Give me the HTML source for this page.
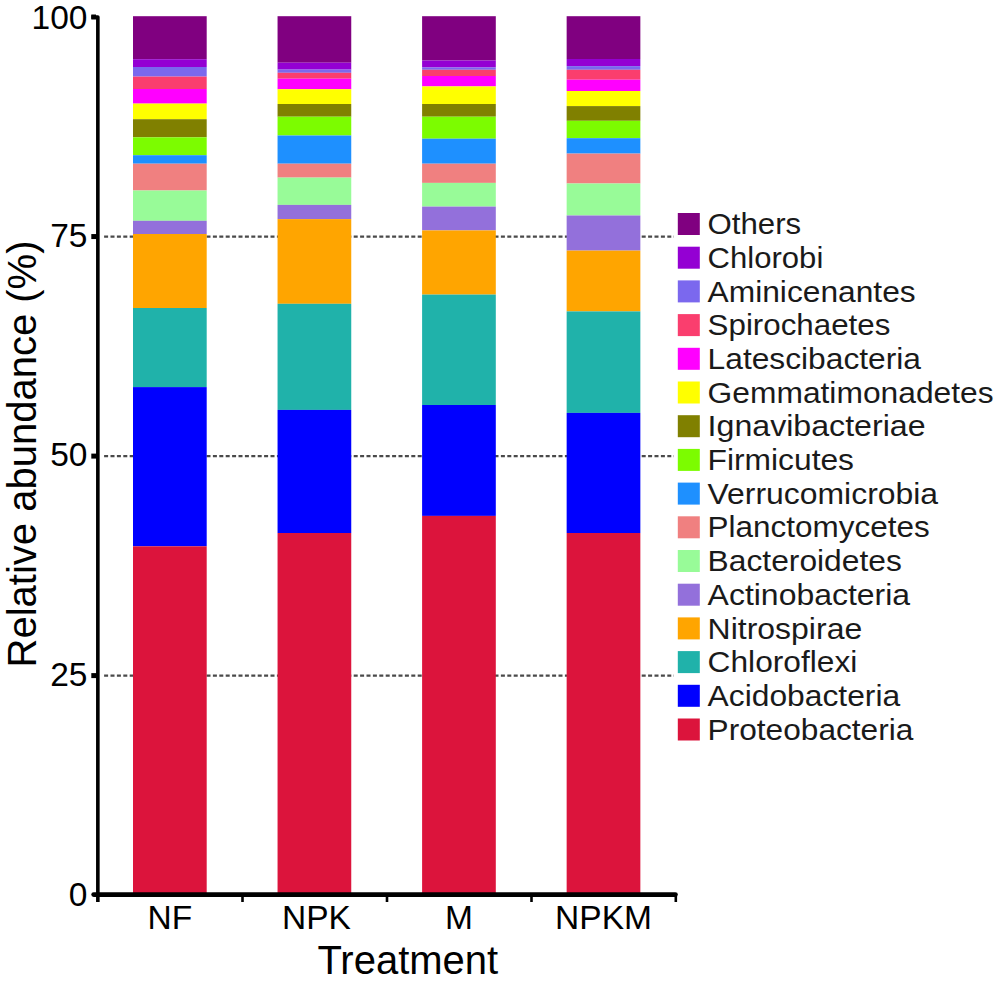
<!DOCTYPE html>
<html><head><meta charset="utf-8"><style>
html,body{margin:0;padding:0;background:#fff;}
svg{display:block;font-family:"Liberation Sans",sans-serif;}
</style></head><body>
<svg width="1000" height="982" viewBox="0 0 1000 982">
<rect width="1000" height="982" fill="#fff"/>
<line x1="104.1" y1="236.55" x2="674" y2="236.55" stroke="#4a4a4a" stroke-width="2.2" stroke-dasharray="4 2.4"/>
<line x1="104.1" y1="456.1" x2="674" y2="456.1" stroke="#4a4a4a" stroke-width="2.2" stroke-dasharray="4 2.4"/>
<line x1="104.1" y1="675.6" x2="674" y2="675.6" stroke="#4a4a4a" stroke-width="2.2" stroke-dasharray="4 2.4"/>
<rect x="133" y="16.20" width="73.7" height="43.00" fill="#800080"/>
<rect x="133" y="59.20" width="73.7" height="7.80" fill="#9400D3"/>
<rect x="133" y="67.00" width="73.7" height="9.60" fill="#7B68EE"/>
<rect x="133" y="76.60" width="73.7" height="12.40" fill="#FA3E6E"/>
<rect x="133" y="89.00" width="73.7" height="14.60" fill="#FF00FF"/>
<rect x="133" y="103.60" width="73.7" height="15.60" fill="#FFFF00"/>
<rect x="133" y="119.20" width="73.7" height="18.10" fill="#808000"/>
<rect x="133" y="137.30" width="73.7" height="17.90" fill="#7CFC00"/>
<rect x="133" y="155.20" width="73.7" height="8.50" fill="#1E90FF"/>
<rect x="133" y="163.70" width="73.7" height="26.80" fill="#F08080"/>
<rect x="133" y="190.50" width="73.7" height="30.30" fill="#98FB98"/>
<rect x="133" y="220.80" width="73.7" height="13.20" fill="#9370DB"/>
<rect x="133" y="234.00" width="73.7" height="74.00" fill="#FFA500"/>
<rect x="133" y="308.00" width="73.7" height="79.10" fill="#20B2AA"/>
<rect x="133" y="387.10" width="73.7" height="159.20" fill="#0000FF"/>
<rect x="133" y="546.30" width="73.7" height="348.70" fill="#DC143C"/>
<rect x="277.55" y="16.20" width="73.7" height="46.50" fill="#800080"/>
<rect x="277.55" y="62.70" width="73.7" height="6.90" fill="#9400D3"/>
<rect x="277.55" y="69.60" width="73.7" height="3.20" fill="#7B68EE"/>
<rect x="277.55" y="72.80" width="73.7" height="5.90" fill="#FA3E6E"/>
<rect x="277.55" y="78.70" width="73.7" height="10.50" fill="#FF00FF"/>
<rect x="277.55" y="89.20" width="73.7" height="14.80" fill="#FFFF00"/>
<rect x="277.55" y="104.00" width="73.7" height="12.70" fill="#808000"/>
<rect x="277.55" y="116.70" width="73.7" height="18.80" fill="#7CFC00"/>
<rect x="277.55" y="135.50" width="73.7" height="28.20" fill="#1E90FF"/>
<rect x="277.55" y="163.70" width="73.7" height="13.90" fill="#F08080"/>
<rect x="277.55" y="177.60" width="73.7" height="27.30" fill="#98FB98"/>
<rect x="277.55" y="204.90" width="73.7" height="14.20" fill="#9370DB"/>
<rect x="277.55" y="219.10" width="73.7" height="84.70" fill="#FFA500"/>
<rect x="277.55" y="303.80" width="73.7" height="106.10" fill="#20B2AA"/>
<rect x="277.55" y="409.90" width="73.7" height="123.10" fill="#0000FF"/>
<rect x="277.55" y="533.00" width="73.7" height="362.00" fill="#DC143C"/>
<rect x="422.1" y="16.20" width="73.7" height="44.30" fill="#800080"/>
<rect x="422.1" y="60.50" width="73.7" height="7.00" fill="#9400D3"/>
<rect x="422.1" y="67.50" width="73.7" height="2.30" fill="#7B68EE"/>
<rect x="422.1" y="69.80" width="73.7" height="6.20" fill="#FA3E6E"/>
<rect x="422.1" y="76.00" width="73.7" height="10.40" fill="#FF00FF"/>
<rect x="422.1" y="86.40" width="73.7" height="17.60" fill="#FFFF00"/>
<rect x="422.1" y="104.00" width="73.7" height="12.70" fill="#808000"/>
<rect x="422.1" y="116.70" width="73.7" height="22.00" fill="#7CFC00"/>
<rect x="422.1" y="138.70" width="73.7" height="25.00" fill="#1E90FF"/>
<rect x="422.1" y="163.70" width="73.7" height="19.20" fill="#F08080"/>
<rect x="422.1" y="182.90" width="73.7" height="23.70" fill="#98FB98"/>
<rect x="422.1" y="206.60" width="73.7" height="23.80" fill="#9370DB"/>
<rect x="422.1" y="230.40" width="73.7" height="64.20" fill="#FFA500"/>
<rect x="422.1" y="294.60" width="73.7" height="110.40" fill="#20B2AA"/>
<rect x="422.1" y="405.00" width="73.7" height="110.90" fill="#0000FF"/>
<rect x="422.1" y="515.90" width="73.7" height="379.10" fill="#DC143C"/>
<rect x="566.65" y="16.20" width="73.7" height="42.80" fill="#800080"/>
<rect x="566.65" y="59.00" width="73.7" height="7.10" fill="#9400D3"/>
<rect x="566.65" y="66.10" width="73.7" height="3.70" fill="#7B68EE"/>
<rect x="566.65" y="69.80" width="73.7" height="9.90" fill="#FA3E6E"/>
<rect x="566.65" y="79.70" width="73.7" height="11.30" fill="#FF00FF"/>
<rect x="566.65" y="91.00" width="73.7" height="15.10" fill="#FFFF00"/>
<rect x="566.65" y="106.10" width="73.7" height="14.70" fill="#808000"/>
<rect x="566.65" y="120.80" width="73.7" height="17.40" fill="#7CFC00"/>
<rect x="566.65" y="138.20" width="73.7" height="15.40" fill="#1E90FF"/>
<rect x="566.65" y="153.60" width="73.7" height="29.90" fill="#F08080"/>
<rect x="566.65" y="183.50" width="73.7" height="32.00" fill="#98FB98"/>
<rect x="566.65" y="215.50" width="73.7" height="35.10" fill="#9370DB"/>
<rect x="566.65" y="250.60" width="73.7" height="60.80" fill="#FFA500"/>
<rect x="566.65" y="311.40" width="73.7" height="101.50" fill="#20B2AA"/>
<rect x="566.65" y="412.90" width="73.7" height="120.10" fill="#0000FF"/>
<rect x="566.65" y="533.00" width="73.7" height="362.00" fill="#DC143C"/>
<path d="M91.3,17 H97.85 V902" fill="none" stroke="#000" stroke-width="3.6" stroke-linejoin="round"/>
<line x1="91.3" y1="17" x2="96" y2="17" stroke="#000" stroke-width="5"/>
<line x1="91.3" y1="236.55" x2="97.85" y2="236.55" stroke="#000" stroke-width="5"/>
<line x1="91.3" y1="456.1" x2="97.85" y2="456.1" stroke="#000" stroke-width="5"/>
<line x1="91.3" y1="675.6" x2="97.85" y2="675.6" stroke="#000" stroke-width="5"/>
<path d="M93.7,894.6 H675.4" fill="none" stroke="#000" stroke-width="4.8" stroke-linecap="round"/>
<line x1="242.5" y1="894" x2="242.5" y2="902" stroke="#000" stroke-width="2.6"/>
<line x1="387" y1="894" x2="387" y2="902" stroke="#000" stroke-width="2.6"/>
<line x1="531.5" y1="894" x2="531.5" y2="902" stroke="#000" stroke-width="2.6"/>
<line x1="675.8" y1="894" x2="675.8" y2="902" stroke="#000" stroke-width="2.6"/>
<text x="87.5" y="28.5" text-anchor="end" font-size="33.5">100</text>
<text x="87.5" y="246.8" text-anchor="end" font-size="33.5">75</text>
<text x="87.5" y="466.4" text-anchor="end" font-size="33.5">50</text>
<text x="87.5" y="686.2" text-anchor="end" font-size="33.5">25</text>
<text x="87.5" y="905.8" text-anchor="end" font-size="33.5">0</text>
<text x="169.85" y="929.3" text-anchor="middle" font-size="33.5">NF</text>
<text x="316.40" y="929.3" text-anchor="middle" font-size="33.5">NPK</text>
<text x="458.95" y="929.3" text-anchor="middle" font-size="33.5">M</text>
<text x="603.50" y="929.3" text-anchor="middle" font-size="33.5">NPKM</text>
<text x="407.8" y="973.7" text-anchor="middle" font-size="40">Treatment</text>
<text transform="translate(35.7,454) rotate(-90)" text-anchor="middle" font-size="40">Relative abundance (%)</text>
<rect x="677.8" y="213.00" width="22" height="22" fill="#800080"/>
<text x="707.6" y="234.10" font-size="28.6" fill="#1a1a1a" textLength="93.6" lengthAdjust="spacingAndGlyphs">Others</text>
<rect x="677.8" y="246.70" width="22" height="22" fill="#9400D3"/>
<text x="707.6" y="267.80" font-size="28.6" fill="#1a1a1a" textLength="115.7" lengthAdjust="spacingAndGlyphs">Chlorobi</text>
<rect x="677.8" y="280.40" width="22" height="22" fill="#7B68EE"/>
<text x="707.6" y="301.50" font-size="28.6" fill="#1a1a1a" textLength="208.1" lengthAdjust="spacingAndGlyphs">Aminicenantes</text>
<rect x="677.8" y="314.10" width="22" height="22" fill="#FA3E6E"/>
<text x="707.6" y="335.20" font-size="28.6" fill="#1a1a1a" textLength="182.7" lengthAdjust="spacingAndGlyphs">Spirochaetes</text>
<rect x="677.8" y="347.80" width="22" height="22" fill="#FF00FF"/>
<text x="707.6" y="368.90" font-size="28.6" fill="#1a1a1a" textLength="213.4" lengthAdjust="spacingAndGlyphs">Latescibacteria</text>
<rect x="677.8" y="381.50" width="22" height="22" fill="#FFFF00"/>
<text x="707.6" y="402.60" font-size="28.6" fill="#1a1a1a" textLength="286.0" lengthAdjust="spacingAndGlyphs">Gemmatimonadetes</text>
<rect x="677.8" y="415.20" width="22" height="22" fill="#808000"/>
<text x="707.6" y="436.30" font-size="28.6" fill="#1a1a1a" textLength="218.0" lengthAdjust="spacingAndGlyphs">Ignavibacteriae</text>
<rect x="677.8" y="448.90" width="22" height="22" fill="#7CFC00"/>
<text x="707.6" y="470.00" font-size="28.6" fill="#1a1a1a" textLength="146.4" lengthAdjust="spacingAndGlyphs">Firmicutes</text>
<rect x="677.8" y="482.60" width="22" height="22" fill="#1E90FF"/>
<text x="707.6" y="503.70" font-size="28.6" fill="#1a1a1a" textLength="230.5" lengthAdjust="spacingAndGlyphs">Verrucomicrobia</text>
<rect x="677.8" y="516.30" width="22" height="22" fill="#F08080"/>
<text x="707.6" y="537.40" font-size="28.6" fill="#1a1a1a" textLength="222.2" lengthAdjust="spacingAndGlyphs">Planctomycetes</text>
<rect x="677.8" y="550.00" width="22" height="22" fill="#98FB98"/>
<text x="707.6" y="571.10" font-size="28.6" fill="#1a1a1a" textLength="194.2" lengthAdjust="spacingAndGlyphs">Bacteroidetes</text>
<rect x="677.8" y="583.70" width="22" height="22" fill="#9370DB"/>
<text x="707.6" y="604.80" font-size="28.6" fill="#1a1a1a" textLength="202.5" lengthAdjust="spacingAndGlyphs">Actinobacteria</text>
<rect x="677.8" y="617.40" width="22" height="22" fill="#FFA500"/>
<text x="707.6" y="638.50" font-size="28.6" fill="#1a1a1a" textLength="154.6" lengthAdjust="spacingAndGlyphs">Nitrospirae</text>
<rect x="677.8" y="651.10" width="22" height="22" fill="#20B2AA"/>
<text x="707.6" y="672.20" font-size="28.6" fill="#1a1a1a" textLength="149.7" lengthAdjust="spacingAndGlyphs">Chloroflexi</text>
<rect x="677.8" y="684.80" width="22" height="22" fill="#0000FF"/>
<text x="707.6" y="705.90" font-size="28.6" fill="#1a1a1a" textLength="192.6" lengthAdjust="spacingAndGlyphs">Acidobacteria</text>
<rect x="677.8" y="718.50" width="22" height="22" fill="#DC143C"/>
<text x="707.6" y="739.60" font-size="28.6" fill="#1a1a1a" textLength="205.8" lengthAdjust="spacingAndGlyphs">Proteobacteria</text>
</svg>
</body></html>
